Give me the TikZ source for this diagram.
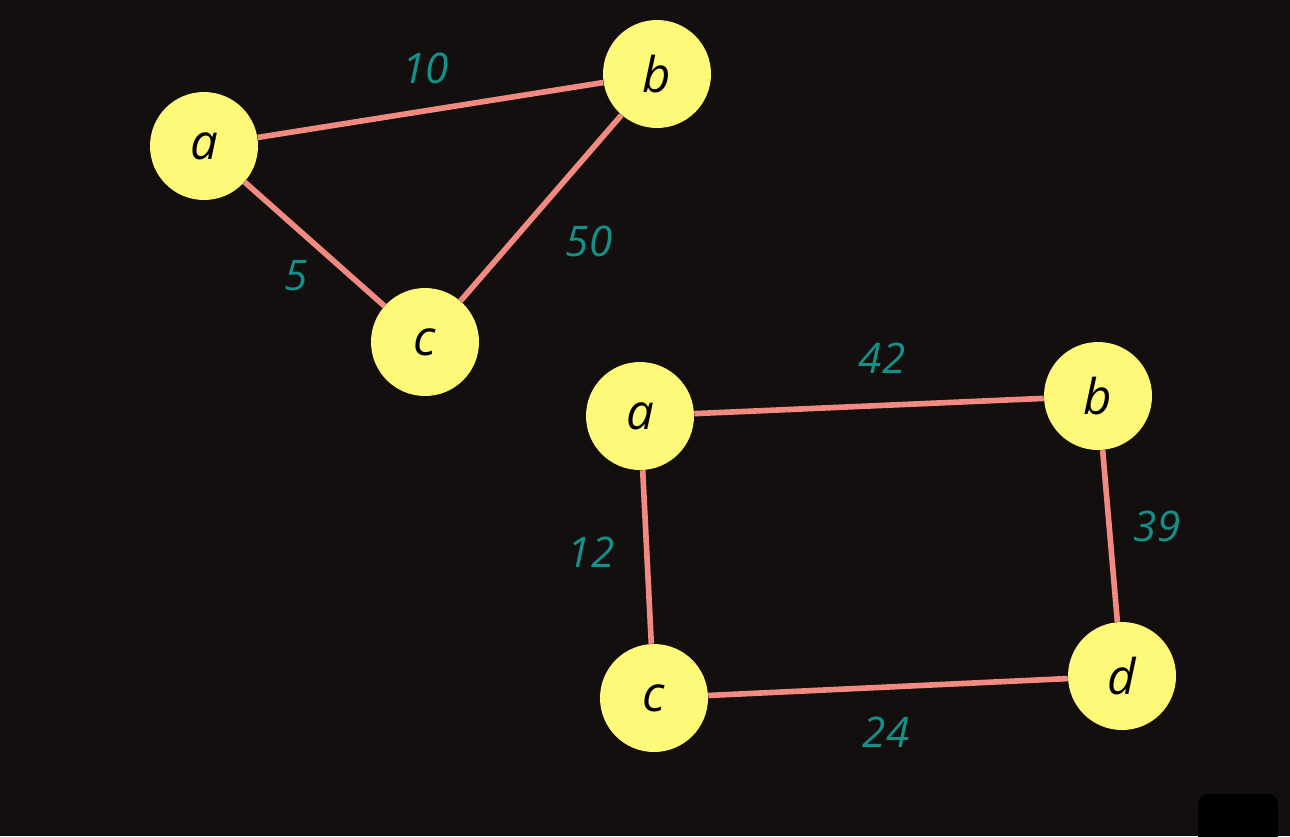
\documentclass[tikz,border=0pt]{standalone}
\usepackage{fontspec}
\setmainfont{Open Sans}
\usetikzlibrary{positioning}
\definecolor{bgdark}{HTML}{140F0F}
\definecolor{vertexfill}{HTML}{FFF97A}
\definecolor{edgepink}{HTML}{F28A82}
\definecolor{weightteal}{HTML}{139088}

\begin{document}
\begin{tikzpicture} [
    x=0.02cm, y=-0.02cm,
    vertex/.style={circle, fill=vertexfill, minimum size=2.16cm, inner sep=0pt, font=\fontsize{28}{32}\selectfont\itshape},
    link/.style={draw=edgepink, line width=3.2pt},
    wt/.style={midway, text=weightteal, font=\fontsize{24}{28}\selectfont\itshape}
    ]
    \fill[bgdark] (0,0) rectangle (1290,836);
    \useasboundingbox (0,0) rectangle (1290,836);
    \fill[black, rounded corners=6pt] (1198,794) rectangle (1278,860);

    %Nodes (triangle)
    \node[vertex] (ta) at (204,146) {a};
    \node[vertex] (tb) at (657,74)  {b};
    \node[vertex] (tc) at (425,342) {c};

    %Nodes (square)
    \node[vertex] (sa) at (640,416)  {a};
    \node[vertex] (sb) at (1098,396) {b};
    \node[vertex] (sc) at (654,698)  {c};
    \node[vertex] (sd) at (1122,676) {d};

    %Lines
    \draw[link] (ta) -- (tb) node[wt, shift={(-5,-42)}] {10};
    \draw[link] (ta) -- (tc) node[wt, shift={(-18,32)}] {5};
    \draw[link] (tb) -- (tc) node[wt, shift={(48,33)}] {50};
    \draw[link] (sa) -- (sb) node[wt, shift={(13,-48)}] {42};
    \draw[link] (sa) -- (sc) node[wt, shift={(-56,-5)}] {12};
    \draw[link] (sb) -- (sd) node[wt, shift={(47,-10)}] {39};
    \draw[link] (sc) -- (sd) node[wt, shift={(-2,45)}] {24};

\end{tikzpicture}
\end{document}
